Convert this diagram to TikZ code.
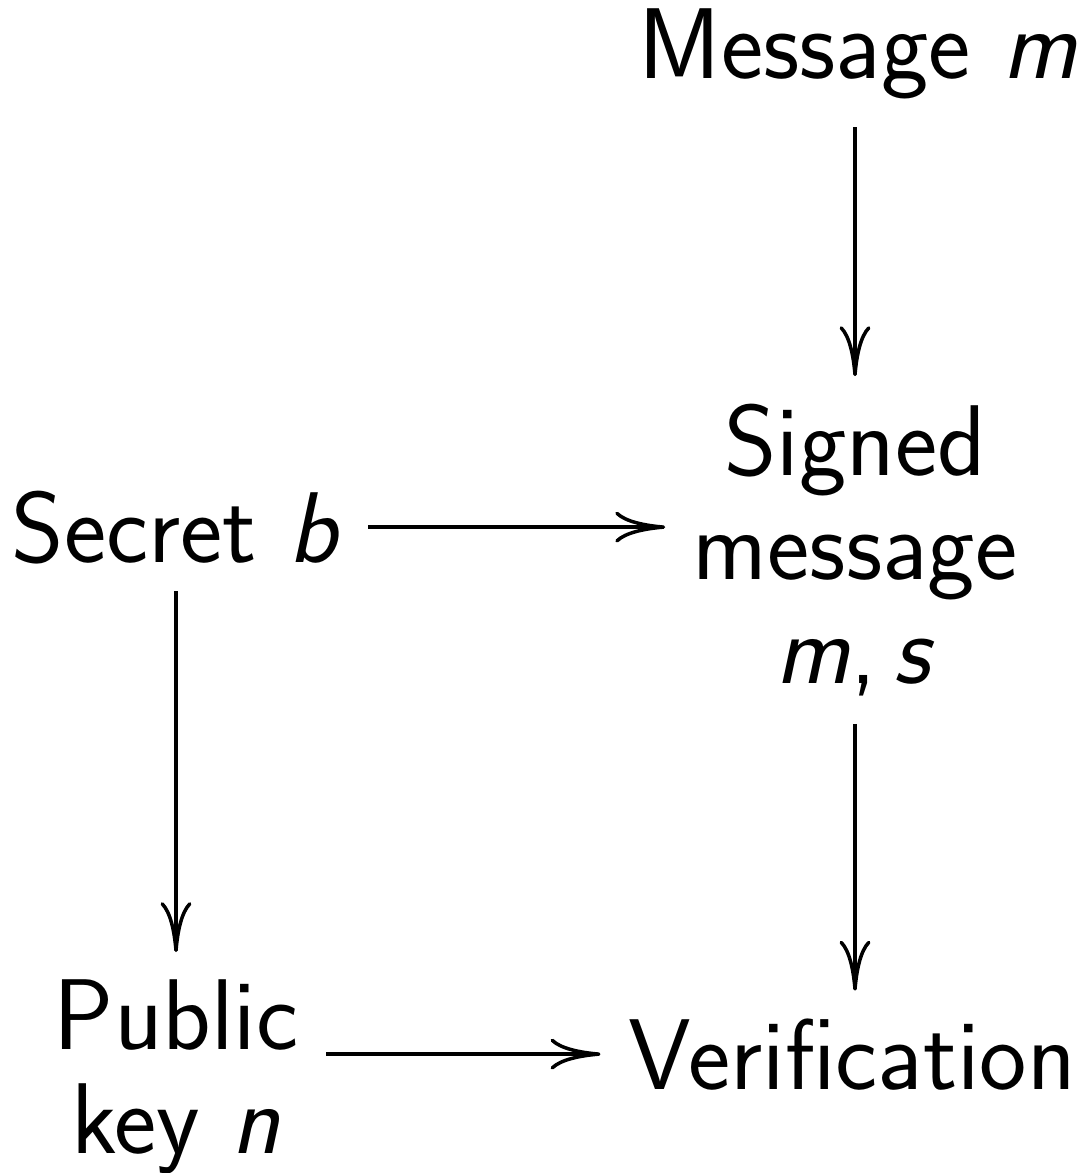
\documentclass[tikz,border=0pt]{standalone}
\usetikzlibrary{arrows.meta}
\begin{document}
\begin{tikzpicture}[x=0.01cm,y=-0.01cm,
  label/.style={font=\fontsize{28.6}{29.6}\selectfont\sffamily, inner sep=0.27cm, align=center},
  flow/.style={-{Computer Modern Rightarrow[length=0.5cm,width=0.31cm]}, line width=0.035cm}]
\useasboundingbox (0,0) rectangle (1083,1173);
% nodes
\node[label,anchor=base] (msg) at (858,79) {Message \textit{m}};
\node[label,anchor=base] (secret) at (176,562) {Secret \textit{b}};
\node[label] (signed) at (855,550) {Signed\\message\\\textit{m},\,\textit{s}};
\node[label] (public) at (176,1077) {Public\\key \textit{n}};
\node[label,anchor=base] (verif) at (852,1089) {Verification};
% connectors
\draw[flow] (msg.south -| signed.north) -- (signed.north);
\draw[flow] (secret.east) -- (secret.east -| signed.west);
\draw[flow] (secret.south) -- (public.north);
\draw[flow] (signed.south) -- (signed.south |- verif.north);
\draw[flow] (public.east |- verif.west) -- (verif.west);
\end{tikzpicture}
\end{document}
